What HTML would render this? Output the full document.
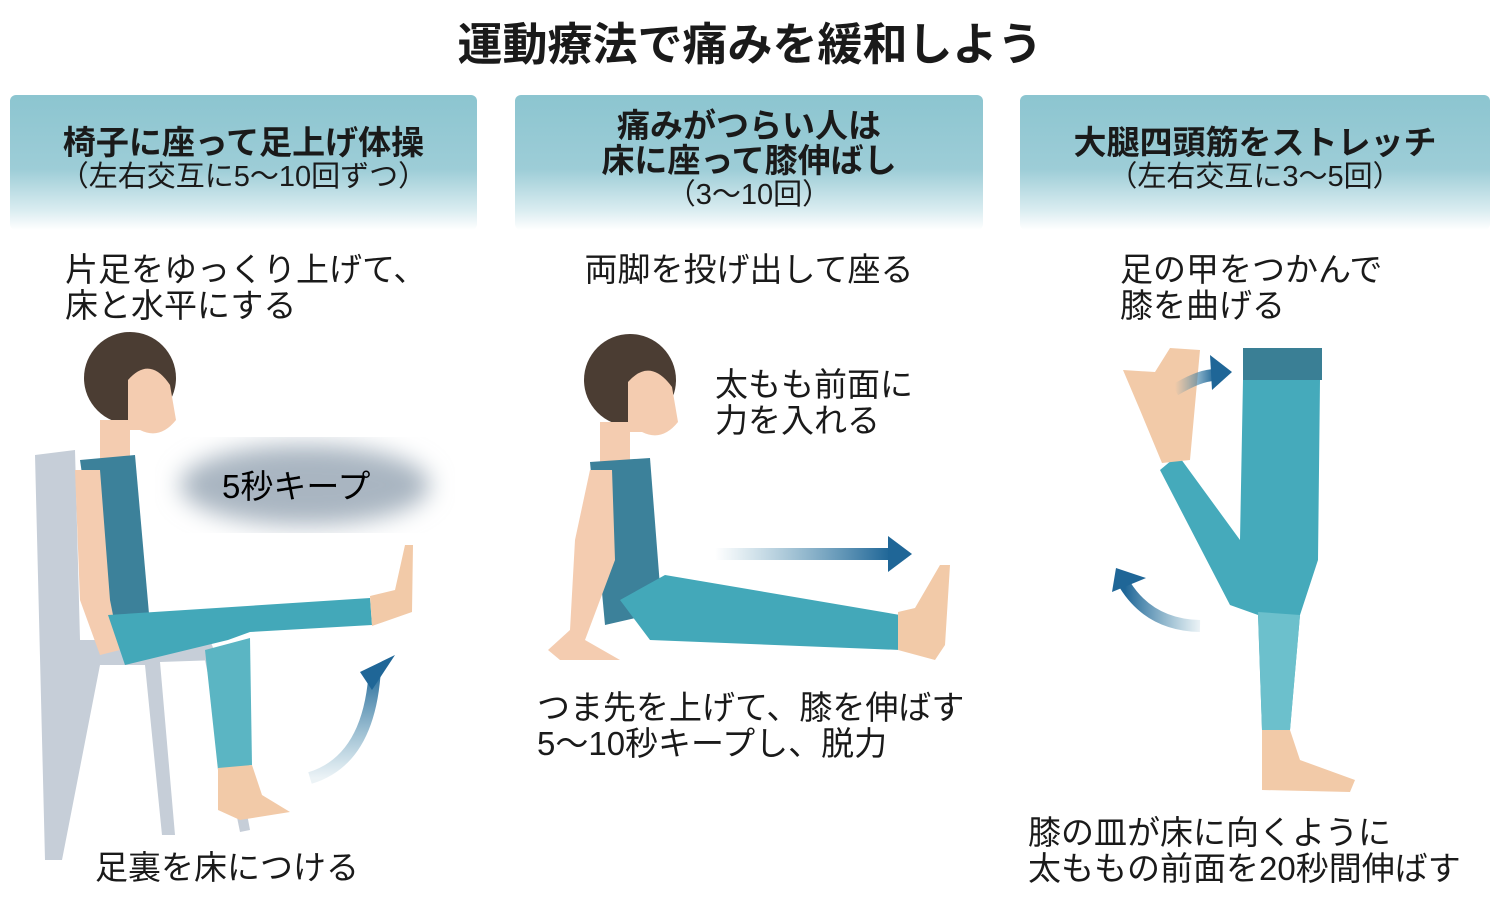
<!DOCTYPE html>
<html><head><meta charset="utf-8"><style>
html,body{margin:0;padding:0;background:#fff;}
body{width:1500px;height:900px;position:relative;overflow:hidden;font-family:"Liberation Sans","Noto Sans CJK JP",sans-serif;color:#1a1a1a;}
.t{position:absolute;white-space:nowrap;z-index:2;}
.hd{position:absolute;top:95px;height:135px;border-radius:6px;background:linear-gradient(#8cc5d0 0%,#9dcdd7 55%,#d9ecf0 85%,#fff 100%);text-align:center;}
.b{font-weight:bold;font-size:33px;}
.s{font-size:29px;}
.body{font-size:33px;line-height:36px;}
svg{z-index:1;}
</style></head><body>
<div class="t" style="left:0;width:1500px;text-align:center;top:8px;font-size:45px;font-weight:bold;">運動療法で痛みを緩和しよう</div>

<div class="hd" style="left:10px;width:467px;"><div style="padding-top:31px;line-height:34px"><div class="b">椅子に座って足上げ体操</div><div class="s">（左右交互に5～10回ずつ）</div></div></div>
<div class="hd" style="left:515px;width:468px;"><div style="padding-top:13px;line-height:35px"><div class="b">痛みがつらい人は</div><div class="b">床に座って膝伸ばし</div><div class="s">（3～10回）</div></div></div>
<div class="hd" style="left:1020px;width:470px;"><div style="padding-top:31px;line-height:34px"><div class="b">大腿四頭筋をストレッチ</div><div class="s">（左右交互に3～5回）</div></div></div>

<div class="t body" style="left:65px;top:252px;">片足をゆっくり上げて、<br>床と水平にする</div>
<div class="t body" style="left:515px;width:468px;text-align:center;top:252px;">両脚を投げ出して座る</div>
<div class="t body" style="left:1120px;top:252px;">足の甲をつかんで<br>膝を曲げる</div>
<div class="t body" style="left:715px;top:367px;">太もも前面に<br>力を入れる</div>
<div class="t body" style="left:95px;top:850px;">足裏を床につける</div>
<div class="t body" style="left:537px;top:690px;">つま先を上げて、膝を伸ばす<br>5～10秒キープし、脱力</div>
<div class="t body" style="left:1028px;top:815px;">膝の皿が床に向くように<br>太ももの前面を20秒間伸ばす</div>

<svg width="1500" height="900" style="position:absolute;left:0;top:0">
<defs>
<filter id="bl"><feGaussianBlur stdDeviation="12"/></filter>
<linearGradient id="ah" x1="0" x2="1"><stop offset="0" stop-color="#3d86a8" stop-opacity="0"/><stop offset="1" stop-color="#1f6697"/></linearGradient>
<linearGradient id="av" x1="0" y1="1" x2="0" y2="0"><stop offset="0" stop-color="#3d86a8" stop-opacity="0.1"/><stop offset="1" stop-color="#1f6697"/></linearGradient>
<linearGradient id="al" x1="1" x2="0"><stop offset="0" stop-color="#3d86a8" stop-opacity="0.1"/><stop offset="1" stop-color="#1f6697"/></linearGradient>
</defs>
<!-- panel1 -->
<ellipse cx="305" cy="485" rx="125" ry="40" fill="#a9b5c1" filter="url(#bl)"/>
<text x="222" y="498" font-size="33" font-family="Liberation Sans, Noto Sans CJK JP, sans-serif">5秒キープ</text>
<path d="M35 455 L75 450 L80 640 L210 640 L218 660 L160 662 L175 835 L162 835 L145 665 L100 665 L62 860 L45 860 Z" fill="#c6ced8"/>
<path d="M205 660 L218 660 L250 830 L240 832 Z" fill="#c6ced8"/>
<circle cx="130" cy="378" r="46" fill="#4b3d33"/>
<path d="M128 380 Q150 355 170 385 L176 420 Q160 440 140 430 L128 430 Z" fill="#f4ccb0"/>
<rect x="100" y="420" width="30" height="40" fill="#f4ccb0"/>
<path d="M80 460 L135 455 L150 625 L105 635 Z" fill="#3c819a"/>
<path d="M75 470 L100 470 L110 600 L120 650 L100 655 L80 600 Z" fill="#f4ccb0"/>
<path d="M108 615 L370 598 L372 625 L250 632 L228 640 L125 665 Z" fill="#43a8b9"/>
<path d="M205 650 L250 638 L252 765 L218 770 Z" fill="#5bb5c3"/>
<path d="M370 596 L395 590 L405 545 L413 545 L412 612 L372 626 Z" fill="#f2caa8"/>
<path d="M218 768 L252 765 L262 795 L290 812 L240 820 L218 810 Z" fill="#f2caa8"/>
<path d="M310 778 Q370 760 375 668" stroke="url(#av)" stroke-width="12" fill="none"/>
<path d="M360 672 L395 655 L372 690 Z" fill="#1f6697"/>
<!-- panel2 -->
<circle cx="630" cy="380" r="46" fill="#4b3d33"/>
<path d="M628 382 Q650 357 672 387 L678 422 Q662 442 642 432 L628 432 Z" fill="#f4ccb0"/>
<rect x="600" y="422" width="30" height="40" fill="#f4ccb0"/>
<path d="M590 462 L650 458 L662 612 L605 625 Z" fill="#3c819a"/>
<path d="M590 470 L612 470 L615 560 L585 640 L620 660 L560 660 L548 650 L570 630 L575 540 Z" fill="#f4ccb0"/>
<path d="M620 600 L665 575 L900 615 L900 650 L650 640 Z" fill="#43a8b9"/>
<path d="M898 612 L915 608 L940 565 L950 565 L945 645 L935 660 L898 650 Z" fill="#f2caa8"/>
<rect x="715" y="548" width="175" height="12" fill="url(#ah)"/>
<path d="M888 536 L912 554 L888 572 Z" fill="#1f6697"/>
<!-- panel3 -->
<rect x="1243" y="348" width="79" height="32" fill="#3a7f95"/>
<path d="M1243 380 L1320 380 L1318 560 L1300 615 L1290 730 L1262 730 L1258 615 L1230 605 L1160 470 L1178 455 L1240 540 Z" fill="#45aabb"/>
<path d="M1258 612 L1300 615 L1290 730 L1262 730 Z" fill="#6cc0cc"/>
<path d="M1262 730 L1290 730 L1300 760 L1355 780 L1350 792 L1262 790 Z" fill="#f2caa8"/>
<path d="M1123 370 L1155 372 L1170 348 L1200 350 L1190 460 L1162 463 L1140 410 Z" fill="#f2caa8"/>
<path d="M1175 390 Q1200 375 1215 375" stroke="url(#ah)" stroke-width="12" fill="none"/>
<path d="M1210 355 L1232 372 L1212 390 Z" fill="#1f6697"/>
<path d="M1200 626 Q1150 625 1125 585" stroke="url(#al)" stroke-width="12" fill="none"/>
<path d="M1112 592 L1116 568 L1146 578 Z" fill="#1f6697"/>
</svg>
</body></html>
